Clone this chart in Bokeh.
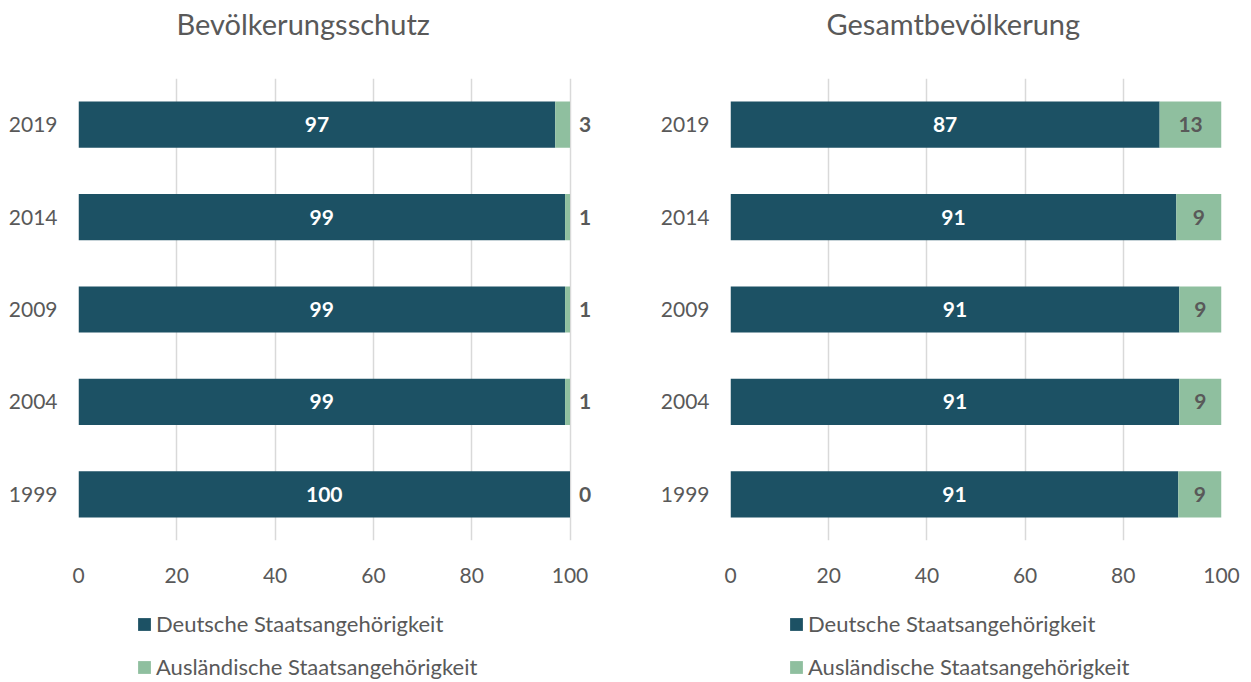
from bokeh.plotting import figure
from bokeh.models import FactorRange, Range1d, FixedTicker, Legend, LegendItem, ColumnDataSource
from bokeh.layouts import row, column
from bokeh.core.properties import value
from bokeh.embed import file_html
from bokeh.resources import INLINE

years = ["1999", "2004", "2009", "2014", "2019"]
bev_de = [100, 99, 99, 99, 97]
bev_aus = [0, 1, 1, 1, 3]
ges_de = [91.2, 91.4, 91.4, 90.8, 87.4]
ges_aus = [8.8, 8.6, 8.6, 9.2, 12.6]
x_ticks = [0, 20, 40, 60, 80, 100]
titles = ["Bevölkerungsschutz", "Gesamtbevölkerung"]
series_names = ["Deutsche Staatsangehörigkeit", "Ausländische Staatsangehörigkeit"]

DARK = "#1c5164"
GREEN = "#8fbf9f"
GREY = "#595959"
FONT = "Lato"


def make_title(title, width, left_border, right_border, title_offset):
    t = figure(width=width, height=46, x_range=Range1d(0, 1), y_range=Range1d(0, 1),
               output_backend="svg", toolbar_location=None, x_axis_type=None, y_axis_type=None,
               min_border_left=left_border, min_border_right=right_border,
               min_border_top=0, min_border_bottom=0)
    t.outline_line_color = None
    t.title.text = title
    t.title.align = "left"
    t.title.offset = title_offset
    t.title.standoff = 6
    t.title.text_font = FONT
    t.title.text_font_size = "29px"
    t.title.text_font_style = "normal"
    t.title.text_color = GREY
    return t


def make_chart(de, aus, width, left_border, right_border, x_end, outside_labels):
    p = figure(width=width, height=554, y_range=FactorRange(*years), x_range=Range1d(0, x_end),
               output_backend="svg", toolbar_location=None,
               min_border_left=left_border, min_border_right=right_border,
               min_border_top=32, min_border_bottom=60)
    p.outline_line_color = None

    src = ColumnDataSource(dict(
        y=years, de=de, aus=aus,
        end=[d + a for d, a in zip(de, aus)],
        de_mid=[d / 2 for d in de],
        aus_mid=[d + a / 2 for d, a in zip(de, aus)],
        de_lbl=[str(round(d)) for d in de],
        aus_lbl=[str(round(a)) for a in aus],
        full=[100] * len(years),
    ))
    p.hbar(y="y", left=0, right="de", height=0.5, source=src, fill_color=DARK, line_color=None)
    p.hbar(y="y", left="de", right="end", height=0.5, source=src, fill_color=GREEN, line_color=None)

    p.text(x="de_mid", y="y", text="de_lbl", source=src, text_color="white",
           text_font=value(FONT), text_font_style="bold", text_font_size="21px",
           text_align="center", text_baseline="middle")
    if outside_labels:
        p.text(x="full", y="y", text="aus_lbl", source=src, text_color=GREY,
               text_font=value(FONT), text_font_style="bold", text_font_size="21px",
               text_align="center", text_baseline="middle", x_offset=15)
    else:
        p.text(x="aus_mid", y="y", text="aus_lbl", source=src, text_color=GREY,
               text_font=value(FONT), text_font_style="bold", text_font_size="21px",
               text_align="center", text_baseline="middle")

    p.xaxis.ticker = FixedTicker(ticks=x_ticks)
    p.xgrid.ticker = FixedTicker(ticks=x_ticks)
    p.xgrid.grid_line_color = "#d9d9d9"
    p.xgrid.grid_line_width = 1.5
    p.ygrid.grid_line_color = None
    for ax in (p.xaxis, p.yaxis):
        ax.axis_line_color = None
        ax.major_tick_line_color = None
        ax.minor_tick_line_color = None
        ax.major_label_text_font = FONT
        ax.major_label_text_font_size = "21px"
        ax.major_label_text_color = GREY
    p.xaxis.major_label_standoff = 21
    p.yaxis.major_label_standoff = 15
    return p


def make_legend(width, x_pos):
    q = figure(width=width, height=80, x_range=Range1d(0, 1), y_range=Range1d(0, 1),
               output_backend="svg", toolbar_location=None, x_axis_type=None, y_axis_type=None,
               min_border=0)
    q.outline_line_color = None
    swatch = ColumnDataSource(dict(y=[0], left=[0], right=[0]))
    r1 = q.hbar(y="y", left="left", right="right", height=0.5, source=swatch, fill_color=DARK, line_color=None)
    r2 = q.hbar(y="y", left="left", right="right", height=0.5, source=swatch, fill_color=GREEN, line_color=None)
    legend = Legend(items=[LegendItem(label=series_names[0], renderers=[r1]),
                           LegendItem(label=series_names[1], renderers=[r2])],
                    location=(x_pos, 0), orientation="vertical",
                    label_text_font=FONT, label_text_font_size="22px", label_text_color=GREY,
                    glyph_width=16, glyph_height=16, label_standoff=4, spacing=16,
                    padding=0, margin=0, border_line_color=None, background_fill_alpha=0)
    q.add_layout(legend, "center")
    return q


t1 = make_title(titles[0], 625, 78, 26, 98)
t2 = make_title(titles[1], 621, 105, 25, 96)
p1 = make_chart(bev_de, bev_aus, 625, 78, 26, 106, True)
p2 = make_chart(ges_de, ges_aus, 621, 105, 25, 100, False)
l1 = make_legend(625, 136)
l2 = make_legend(621, 163)
p = column(row(t1, t2), row(p1, p2), row(l1, l2))

open("out.html", "w").write(file_html(p, INLINE))
